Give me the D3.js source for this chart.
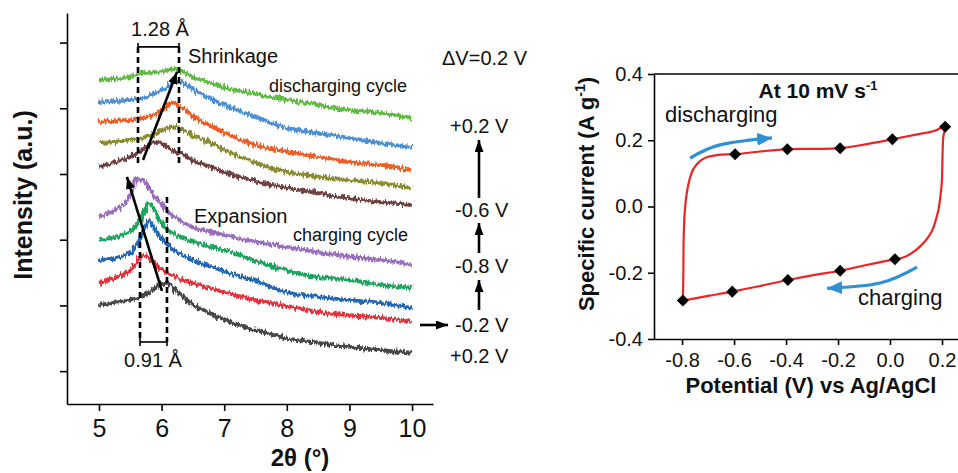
<!DOCTYPE html>
<html><head><meta charset="utf-8">
<script src="https://cdn.jsdelivr.net/npm/d3@7"></script>
<style>
html,body{margin:0;padding:0;background:#fff;}
svg{display:block;font-family:"Liberation Sans",Arial,sans-serif;}
</style></head><body><svg id="c" width="958" height="473"></svg>
<script>
// ---------- Left panel data (XRD, intensity a.u.) ----------
const twoTheta = [5,5.25,5.5,5.6,5.7,5.8,5.9,6.0,6.1,6.2,6.3,6.5,6.75,7,7.5,8,8.5,9,9.5,10];
const xrdGray   = [1.51,1.54,1.58,1.61,1.66,1.70,1.77,1.83,1.83,1.75,1.67,1.51,1.39,1.28,1.13,1.00,0.93,0.87,0.82,0.78];
const xrdRed    = [1.84,1.92,2.04,2.15,2.27,2.22,2.13,2.04,1.99,1.95,1.90,1.84,1.77,1.70,1.58,1.49,1.40,1.35,1.31,1.25];
const xrdBlue   = [2.19,2.22,2.30,2.42,2.60,2.79,2.65,2.51,2.42,2.34,2.28,2.19,2.10,2.02,1.87,1.70,1.63,1.58,1.54,1.46];
const xrdGreen  = [2.50,2.54,2.63,2.72,2.88,3.06,2.91,2.75,2.66,2.59,2.54,2.47,2.40,2.34,2.18,2.03,1.93,1.89,1.81,1.77];
const xrdPurple = [2.85,2.95,3.17,3.42,3.41,3.29,3.15,3.03,2.94,2.85,2.79,2.69,2.63,2.57,2.47,2.39,2.31,2.24,2.19,2.12];
const xrdBrown  = [3.61,3.68,3.76,3.81,3.87,3.94,3.99,3.96,3.91,3.85,3.81,3.71,3.62,3.53,3.39,3.29,3.21,3.13,3.07,3.03];
const xrdOlive  = [3.97,3.99,4.02,4.03,4.05,4.08,4.11,4.16,4.20,4.22,4.19,4.09,3.99,3.87,3.67,3.53,3.46,3.41,3.36,3.29];
const xrdOrange = [4.29,4.31,4.32,4.34,4.35,4.38,4.41,4.46,4.54,4.58,4.52,4.38,4.25,4.13,3.94,3.84,3.76,3.68,3.64,3.56];
const xrdSky    = [4.60,4.61,4.63,4.64,4.66,4.69,4.73,4.78,4.84,4.90,4.90,4.78,4.66,4.55,4.37,4.20,4.12,4.05,3.97,3.91];
const xrdLime   = [4.93,4.95,4.98,5.01,5.04,5.04,5.05,5.07,5.08,5.10,5.07,4.98,4.90,4.82,4.72,4.63,4.55,4.47,4.43,4.35];
const xrdColors = ["#464646","#e8303a","#2466b8","#1ea55c","#9a6dc0","#714141","#8a8a2f","#f25c20","#4c8fd4","#5cbc3c"];
const xTicksL = [5,6,7,8,9,10];
const yTicksL = [0.5,1.5,2.5,3.5,4.5,5.5];
const voltLabels = ["\u0394V=0.2 V","+0.2 V","-0.6 V","-0.8 V","-0.2 V","+0.2 V"];

// ---------- Right panel data (CV) ----------
const cvV = [-0.797,-0.795,-0.794,-0.790,-0.782,-0.770,-0.755,-0.730,-0.700,-0.660,-0.596,-0.500,-0.395,-0.300,-0.192,-0.100,0.009,0.100,0.170,0.212,0.205,0.199,0.192,0.186,0.160,0.115,0.058,0.019,-0.100,-0.192,-0.300,-0.393,-0.500,-0.607,-0.700,-0.797];
const cvI = [-0.284,-0.200,-0.100,-0.020,0.040,0.085,0.115,0.138,0.150,0.156,0.158,0.166,0.173,0.174,0.176,0.187,0.203,0.217,0.228,0.241,0.211,0.070,0.020,-0.011,-0.076,-0.121,-0.152,-0.159,-0.178,-0.194,-0.208,-0.222,-0.240,-0.257,-0.270,-0.284];
const markV = [-0.596,-0.395,-0.192,0.009,0.212,0.019,-0.192,-0.393,-0.607,-0.797];
const markI = [0.158,0.173,0.176,0.203,0.241,-0.159,-0.194,-0.222,-0.257,-0.284];
const xTicksR = [-0.8,-0.6,-0.4,-0.2,0.0,0.2];
const yTicksR = [-0.4,-0.2,0.0,0.2,0.4];

const svg = d3.select("#c");
svg.append("rect").attr("width",958).attr("height",473).attr("fill","#fff");
const defs = svg.append("defs");
const flt = defs.append("filter").attr("id","jit").attr("x","-3%").attr("y","-40%").attr("width","106%").attr("height","180%");
flt.append("feTurbulence").attr("type","fractalNoise").attr("baseFrequency","0.55 0.12").attr("numOctaves",2).attr("seed",7).attr("result","t");
flt.append("feDisplacementMap").attr("in","SourceGraphic").attr("in2","t").attr("scale",7).attr("xChannelSelector","R").attr("yChannelSelector","G");
function mk(id,color,len,wid){
  defs.append("marker").attr("id",id).attr("markerUnits","userSpaceOnUse")
    .attr("viewBox",`0 0 ${len} ${wid}`).attr("refX",len).attr("refY",wid/2)
    .attr("markerWidth",len).attr("markerHeight",wid).attr("orient","auto")
    .append("path").attr("d",`M0,0L${len},${wid/2}L0,${wid}Z`).attr("fill",color);
}
mk("ahK","#000",12,9);
mk("ahB","#2f90d6",15,13);

// ---------- Left panel ----------
const xL = d3.scaleLinear().domain([4.489,10.335]).range([67,433]);
const yL = d3.scaleLinear().domain([0,5.95]).range([404,13]);
const series = [xrdGray,xrdRed,xrdBlue,xrdGreen,xrdPurple,xrdBrown,xrdOlive,xrdOrange,xrdSky,xrdLime];
const lineL = d3.line().x((d,i)=>xL(twoTheta[i])).y(d=>yL(d)).curve(d3.curveMonotoneX);
const gCurves = svg.append("g");
series.forEach((s,k)=>{
  gCurves.append("path").attr("d",lineL(s)).attr("fill","none")
    .attr("stroke",xrdColors[k]).attr("stroke-width",3.9).attr("stroke-linejoin","round")
    .attr("filter","url(#jit)");
});
const axL = svg.append("g").attr("transform","translate(0,404)")
  .call(d3.axisBottom(xL).tickValues(xTicksL).tickFormat(d3.format("d")).tickSize(7).tickSizeOuter(0).tickPadding(8));
const ayL = svg.append("g").attr("transform","translate(67,0)")
  .call(d3.axisLeft(yL).tickValues(yTicksL).tickFormat("").tickSize(7).tickSizeOuter(0));
[axL,ayL].forEach(a=>{a.selectAll("path,line").attr("stroke","#000").attr("stroke-width",1.6);
  a.selectAll("text").attr("font-size",25).attr("fill","#111").attr("font-family","Liberation Sans, Arial, sans-serif");});
svg.append("text").attr("x",300).attr("y",466).attr("text-anchor","middle").attr("font-size",24).attr("font-weight","bold").attr("fill","#111").text("2\u03b8 (\u00b0)");
svg.append("text").attr("transform","translate(32,195) rotate(-90)").attr("text-anchor","middle").attr("font-size",25).attr("font-weight","bold").attr("fill","#111").text("Intensity (a.u.)");

// annotations (data coords)
const dash = (x,y0,y1)=>svg.append("line").attr("x1",xL(x)).attr("x2",xL(x)).attr("y1",yL(y0)).attr("y2",yL(y1))
  .attr("stroke","#000").attr("stroke-width",2.6).attr("stroke-dasharray","6,4");
dash(5.623,5.434,3.607); dash(6.278,5.434,3.607);
dash(5.655,2.618,0.944); dash(6.086,3.151,0.944);
function bar(x0,x1,y){
  const g=svg.append("g").attr("stroke","#000").attr("stroke-width",1.6);
  g.append("line").attr("x1",xL(x0)).attr("x2",xL(x1)).attr("y1",yL(y)).attr("y2",yL(y));
  [x0,x1].forEach(x=>g.append("line").attr("x1",xL(x)).attr("x2",xL(x)).attr("y1",yL(y)-4).attr("y2",yL(y)+4));
}
bar(5.623,6.278,5.434); bar(5.655,6.086,0.944);
function arrowK(x0,y0,x1,y1){svg.append("line").attr("x1",x0).attr("y1",y0).attr("x2",x1).attr("y2",y1)
  .attr("stroke","#000").attr("stroke-width",2.6).attr("marker-end","url(#ahK)");}
arrowK(xL(5.703),yL(3.714),xL(6.246),yL(5.053));
arrowK(xL(6.006),yL(1.72),xL(5.447),yL(3.455));
const T=(x,y,s,size,anchor)=>svg.append("text").attr("x",x).attr("y",y).attr("font-size",size).attr("text-anchor",anchor||"start").attr("fill","#111").text(s);
T(160,36,"1.28 \u00c5",20,"middle");
T(188,63,"Shrinkage",20);
T(269,92,"discharging cycle",18);
T(194,223,"Expansion",20);
T(293,241,"charging cycle",18);
T(153,367,"0.91 \u00c5",20,"middle");
// voltage column
T(442,65,voltLabels[0],20);
T(450,133,voltLabels[1],20);
T(455,217,voltLabels[2],20);
T(455,273,voltLabels[3],20);
T(455,332,voltLabels[4],20);
T(450,363,voltLabels[5],20);
arrowK(479,198,479,140);
arrowK(479,253,479,223);
arrowK(479,310,479,280);
arrowK(420,325,448,325);

// ---------- Right panel ----------
const xR = d3.scaleLinear().domain([-0.908,0.3]).range([654,968]);
const yR = d3.scaleLinear().domain([-0.4,0.4]).range([339,74]);
const axR = svg.append("g").attr("transform","translate(0,339)")
  .call(d3.axisBottom(xR).tickValues(xTicksR).tickFormat(d3.format(".1f")).tickSize(6).tickSizeOuter(0).tickPadding(8));
const ayR = svg.append("g").attr("transform","translate(654,0)")
  .call(d3.axisLeft(yR).tickValues(yTicksR).tickFormat(d3.format(".1f")).tickSize(6).tickSizeOuter(0).tickPadding(5));
[axR,ayR].forEach(a=>{a.selectAll("path,line").attr("stroke","#000").attr("stroke-width",1.6);
  a.selectAll("text").attr("font-size",20).attr("fill","#111").attr("font-family","Liberation Sans, Arial, sans-serif");});
axR.selectAll("text").text(d=>d3.format(".1f")(d).replace("\u2212","-"));
ayR.selectAll("text").text(d=>d3.format(".1f")(d).replace("\u2212","-"));
svg.append("line").attr("x1",xR.range()[0]).attr("x2",xR.range()[1]).attr("y1",yR(0.4)).attr("y2",yR(0.4)).attr("stroke","#000").attr("stroke-width",1.6);

const cvLine = d3.line().x((d,i)=>xR(cvV[i])).y(d=>yR(d)).curve(d3.curveCatmullRom.alpha(0.5));
svg.append("path").attr("d",cvLine(cvI)).attr("fill","none").attr("stroke","#ec2426").attr("stroke-width",2.2);
const diamond = d3.symbol().type(d3.symbolSquare).size(80);
svg.append("g").selectAll("path").data(markI).join("path")
  .attr("transform",(d,i)=>`translate(${xR(markV[i])},${yR(d)}) rotate(45) scale(0.95,0.95)`)
  .attr("d",diamond).attr("fill","#000");

// blue arrows
const blueLine = d3.line().x(d=>xR(d[0])).y(d=>yR(d[1])).curve(d3.curveNatural);
svg.append("path").attr("d",blueLine([[-0.769,0.146],[-0.654,0.186],[-0.454,0.207]])).attr("fill","none")
  .attr("stroke","#2f90d6").attr("stroke-width",3.2).attr("marker-end","url(#ahB)");
svg.append("path").attr("d",blueLine([[0.104,-0.183],[-0.038,-0.231],[-0.242,-0.247]])).attr("fill","none")
  .attr("stroke","#2f90d6").attr("stroke-width",3.2).attr("marker-end","url(#ahB)");

const tAt = svg.append("text").attr("x",818).attr("y",98).attr("text-anchor","middle").attr("font-size",21).attr("font-weight","bold").attr("fill","#111");
tAt.append("tspan").text("At 10 mV s");
tAt.append("tspan").attr("font-size",13).attr("dy",-8).text("-1");
T(665,122,"discharging",22);
T(858,305,"charging",22);
svg.append("text").attr("x",811).attr("y",393).attr("text-anchor","middle").attr("font-size",22).attr("font-weight","bold").attr("fill","#111").text("Potential (V) vs Ag/AgCl");
const tY = svg.append("text").attr("transform","translate(594,194) rotate(-90)").attr("text-anchor","middle").attr("font-size",22).attr("font-weight","bold").attr("fill","#111");
tY.append("tspan").text("Specific current (A g");
tY.append("tspan").attr("font-size",14).attr("dy",-9).text("-1");
tY.append("tspan").attr("dy",9).text(")");
</script></body></html>
